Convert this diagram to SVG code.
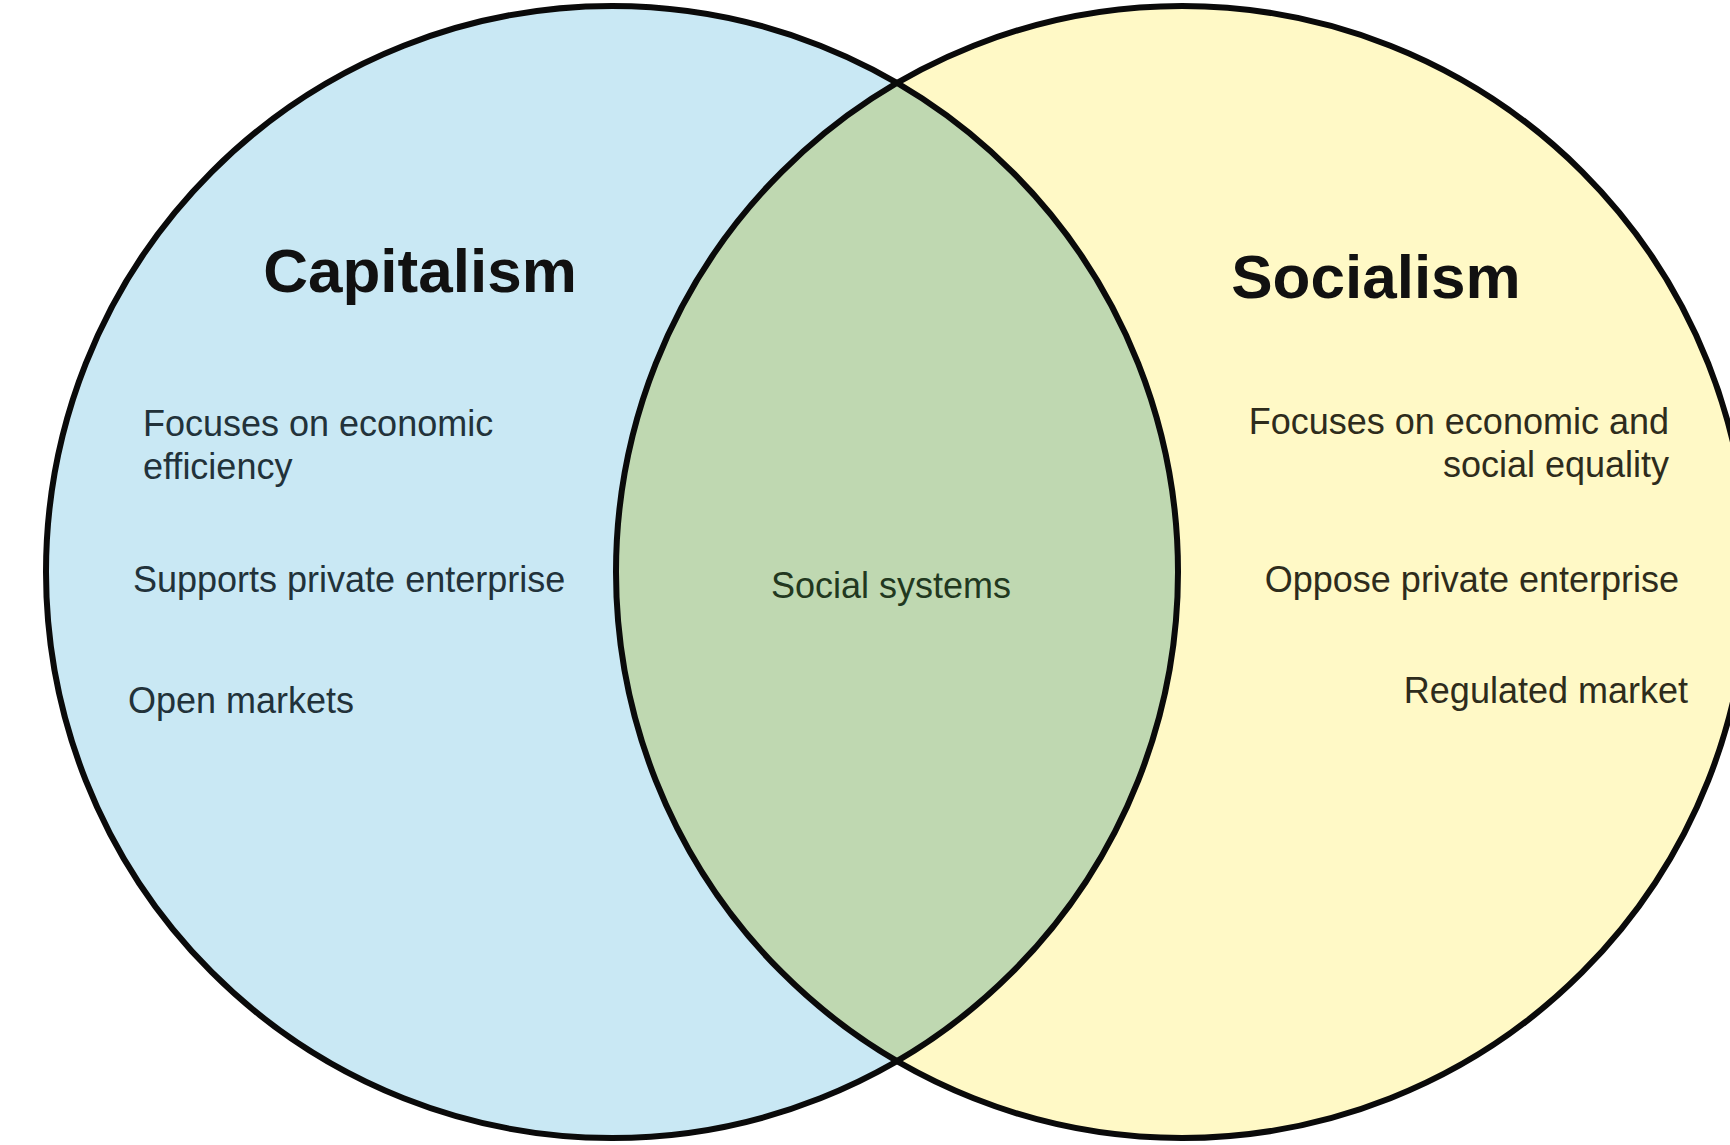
<svg xmlns="http://www.w3.org/2000/svg" width="1730" height="1145" viewBox="0 0 1730 1145">
<style>
.ring{fill:none;stroke:#0a0a0a;stroke-width:6}
.head{font-family:"Liberation Sans",Arial,sans-serif;font-weight:bold;font-size:62px;fill:#111}
.body{font-family:"Liberation Sans",Arial,sans-serif;font-size:36px}
.lt{fill:#22323a}
.rt{fill:#2e2c1c}
.mt{fill:#22381f}
</style>
<rect width="1730" height="1145" fill="#ffffff"/>
<g id="capitalism">
<circle cx="612" cy="572" r="566" fill="#c9e8f4"/>
</g>
<g id="socialism">
<circle cx="1182" cy="572" r="566" fill="#fff9c6"/>
</g>
<g id="overlap">
<path d="M897,83 A566,566 0 0,1 897,1061 A566,566 0 0,1 897,83 Z" fill="#bfd8b1"/>
</g>
<g id="outlines">
<circle class="ring" cx="612" cy="572" r="566"/>
<circle class="ring" cx="1182" cy="572" r="566"/>
</g>
<g id="capitalism-text">
<text class="head" x="420" y="292" text-anchor="middle">Capitalism</text>
<text class="body lt" x="143" y="436">Focuses on economic</text>
<text class="body lt" x="143" y="479">efficiency</text>
<text class="body lt" x="133" y="592">Supports private enterprise</text>
<text class="body lt" x="128" y="713">Open markets</text>
</g>
<g id="socialism-text">
<text class="head" x="1376" y="298" text-anchor="middle">Socialism</text>
<text class="body rt" x="1669" y="434" text-anchor="end">Focuses on economic and</text>
<text class="body rt" x="1669" y="477" text-anchor="end">social equality</text>
<text class="body rt" x="1679" y="592" text-anchor="end">Oppose private enterprise</text>
<text class="body rt" x="1688" y="703" text-anchor="end">Regulated market</text>
</g>
<g id="overlap-text">
<text class="body mt" x="891" y="598" text-anchor="middle">Social systems</text>
</g>
</svg>
